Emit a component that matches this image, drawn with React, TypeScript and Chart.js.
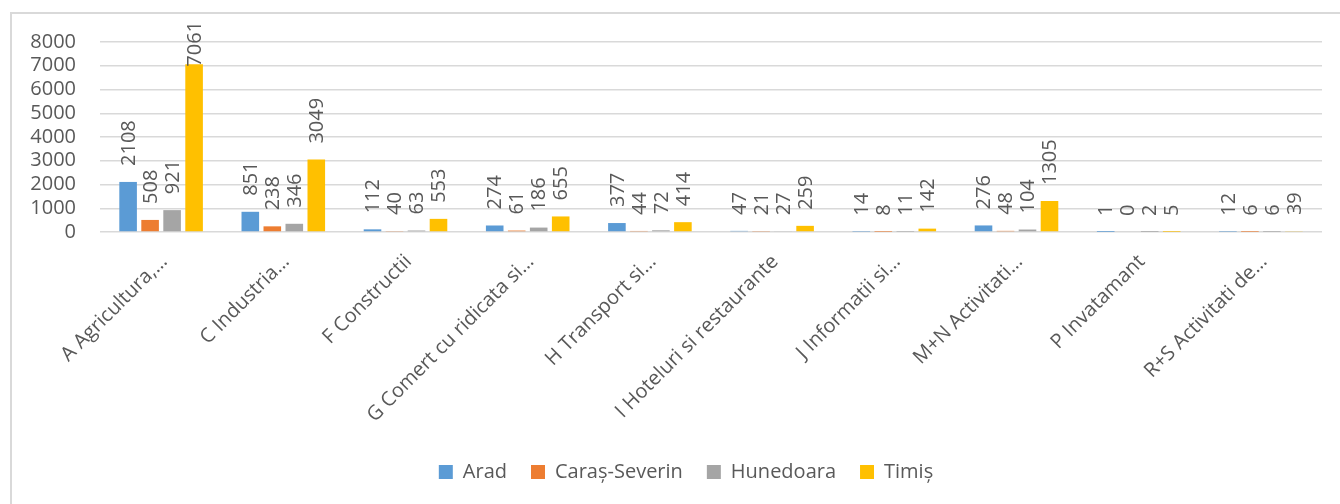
import React, { useEffect, useRef } from "react";
import { Chart, registerables } from "chart.js";

Chart.register(...registerables);

const categories = [
  "A Agricultura,…",
  "C Industria…",
  "F Constructii",
  "G Comert cu ridicata si…",
  "H Transport si…",
  "I Hoteluri si restaurante",
  "J Informatii si…",
  "M+N Activitati…",
  "P Invatamant",
  "R+S Activitati de…",
];
const seriesNames = ["Arad", "Caraș-Severin", "Hunedoara", "Timiș"];
const arad = [2108, 851, 112, 274, 377, 47, 14, 276, 1, 12];
const carasSeverin = [508, 238, 40, 61, 44, 21, 8, 48, 0, 6];
const hunedoara = [921, 346, 63, 186, 72, 27, 11, 104, 2, 6];
const timis = [7061, 3049, 553, 655, 414, 259, 142, 1305, 5, 39];
const seriesColors = ["#5B9BD5", "#ED7D31", "#A5A5A5", "#FFC000"];
const yMin = 0;
const yMax = 8000;
const yStep = 1000;

const FONT = "'Open Sans', 'DejaVu Sans', sans-serif";
const TEXT = "#595959";

const valueLabels = {
  id: "valueLabels",
  afterLayout(chart: any) {
    if (chart.legend) chart.legend.left += 40;
  },
  afterDatasetsDraw(chart: any) {
    const ctx = chart.ctx;
    ctx.save();
    ctx.font = `20px ${FONT}`;
    ctx.fillStyle = TEXT;
    ctx.textAlign = "left";
    ctx.textBaseline = "middle";
    chart.data.datasets.forEach((ds: any, i: number) => {
      const meta = chart.getDatasetMeta(i);
      meta.data.forEach((bar: any, j: number) => {
        const txt = String(ds.data[j]);
        const w = ctx.measureText(txt).width;
        let start = bar.y - 16;
        if (start - w < 21) start = 21 + w;
        ctx.save();
        ctx.translate(bar.x + 1, start);
        ctx.rotate(-Math.PI / 2);
        ctx.fillText(txt, 0, 0);
        ctx.restore();
      });
    });
    ctx.restore();
  },
};

export default function App() {
  const ref = useRef<HTMLCanvasElement | null>(null);

  useEffect(() => {
    if (!ref.current) return;
    const data = [arad, carasSeverin, hunedoara, timis];
    const chart = new Chart(ref.current, {
      type: "bar",
      data: {
        labels: categories,
        datasets: seriesNames.map((name, i) => ({
          label: name,
          data: data[i],
          backgroundColor: seriesColors[i],
          borderWidth: 0,
          categoryPercentage: 0.72,
          barPercentage: 0.8,
        })),
      },
      options: {
        responsive: false,
        animation: false,
        devicePixelRatio: 1,
        layout: { padding: { left: 10, right: 18, top: 42, bottom: 12 } },
        plugins: {
          legend: {
            position: "bottom",
            labels: {
              boxWidth: 14,
              boxHeight: 14,
              padding: 24,
              color: TEXT,
              font: { family: FONT, size: 20 },
            },
          },
          tooltip: { enabled: false },
        },
        scales: {
          x: {
            grid: { display: false, drawTicks: false },
            border: { display: false },
            ticks: {
              color: TEXT,
              font: { family: FONT, size: 20 },
              maxRotation: 45,
              minRotation: 45,
              autoSkip: false,
              padding: 18,
              labelOffset: 3,
            },
            afterFit(scale: any) {
              scale.paddingLeft = 0;
              scale.paddingRight = 0;
              scale.height = 206;
            },
          },
          y: {
            min: yMin,
            max: yMax,
            grid: { color: "#d9d9d9", lineWidth: 1.5, drawTicks: false },
            border: { display: false },
            ticks: {
              stepSize: yStep,
              autoSkip: false,
              color: TEXT,
              padding: 24,
              font: { family: FONT, size: 20 },
              callback: (v: any) => String(v),
            },
            afterFit(scale: any) {
              scale.width = 90;
            },
          },
        },
      },
      plugins: [valueLabels],
    });
    return () => chart.destroy();
  }, []);

  return (
    <div
      style={{
        position: "fixed",
        left: 0,
        top: 0,
        width: 1340,
        height: 504,
        overflow: "hidden",
        background: "#fff",
      }}
    >
      <div
        style={{
          position: "absolute",
          left: 10,
          top: 12,
          width: 1400,
          height: 600,
          border: "2px solid #d9d9d9",
          boxSizing: "border-box",
        }}
      />
      <canvas
        ref={ref}
        width={1340}
        height={504}
        style={{ position: "absolute", left: 0, top: 0, width: 1340, height: 504 }}
      />
    </div>
  );
}
